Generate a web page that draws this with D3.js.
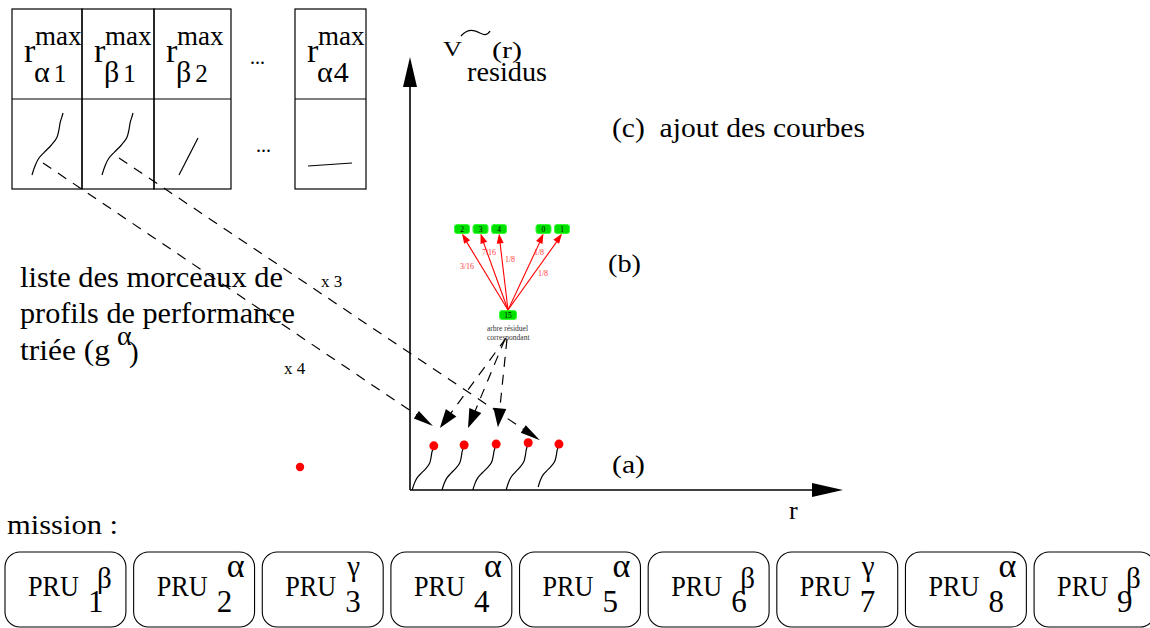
<!DOCTYPE html>
<html>
<head>
<meta charset="utf-8">
<script src="https://cdn.jsdelivr.net/npm/d3@7"></script>
<style>
    body { margin: 0; background: #fff; }
    svg, svg text { font-family: "Liberation Serif", "DejaVu Serif", "Times New Roman", Times, serif; }
</style>
</head>
<body>
<div id="chart"></div>
<script>
// ---- data ----
// sorted list of performance profile pieces (top-left table)
const pieceGreek = ['α', 'β', 'β', 'α'];
const pieceIndex = ['1', '1', '2', '4'];
const pieceKind  = ['curve', 'curve', 'line', 'flat'];

// mission : sequence of PRUs
const pruIndex = ['1', '2', '3', '4', '5', '6', '7', '8', '9'];
const pruGreek = ['β', 'α', 'γ', 'α', 'α', 'β', 'γ', 'α', 'β'];

// residual curves on the (r, V~) axes, in axis units
const residBase = [0.05, 0.74, 1.45, 2.22, 2.96];
const residBaseY = [0, 0, 0, 0, 0.07];
const residTopX = [0.55, 1.25, 1.99, 2.73, 3.44];
const residTopY = [1.02, 1.04, 1.06, 1.09, 1.06];
const strayDot = [-2.54, 0.53];

// residual tree
const treeRoot = '15';
const treeLeaves = ['2', '3', '4', '0', '1'];
const treeWeights = ['3/16', '7/16', '1/8', '1/8', '1/8'];
const treeSlot = [0, 1, 2, 4.4, 5.4];

const multLabels = ['x 3', 'x 4'];

// shape of one profile piece, normalised (0,0) bottom -> (1,1) top
const profileShape = [[0, 0], [0.1, 0.15], [0.22, 0.27], [0.4, 0.37], [0.62, 0.48],
    [0.8, 0.6], [0.87, 0.73], [0.91, 0.85], [0.96, 0.93], [1, 1]];

// ---- drawing ----
const width = 1150, height = 628;
const serif = '"Liberation Serif", "DejaVu Serif", "Times New Roman", Times, serif';
const svg = d3.select('#chart').append('svg')
    .attr('width', width)
    .attr('height', height)
    .attr('font-family', serif);

svg.append('rect').attr('width', width).attr('height', height).attr('fill', '#fff');

function headPoints(tx, ty, fx, fy, len, half) {
    let a = Math.atan2(ty - fy, tx - fx);
    let bx = tx - len * Math.cos(a), by = ty - len * Math.sin(a);
    let nx = -Math.sin(a) * half, ny = Math.cos(a) * half;
    return [[tx, ty], [bx + nx, by + ny], [bx - nx, by - ny]].map(p => p.join(',')).join(' ');
}

// text stretched to the width it has in the figure
function fitText(g, x, y, size, len, str) {
    return g.append('text')
        .attr('x', x).attr('y', y)
        .attr('font-size', size)
        .attr('textLength', len)
        .attr('lengthAdjust', 'spacingAndGlyphs')
        .text(str);
}

const pieceLine = d3.line().curve(d3.curveCatmullRom.alpha(0.5));

function profilePath(x0, y0, x1, y1) {
    let pts = profileShape.map(p => [x0 + p[0] * (x1 - x0), y0 + p[1] * (y1 - y0)]);
    return pieceLine(pts);
}

// table of pieces
const colLeft = [12, 82, 154, 295];
const colRight = [82, 154, 231, 366];
const rowTop = 9, rowMid = 99, rowBot = 189;
const kindGeom = {
    curve: [20, 175, 51, 113],
    line: [25, 175, 44, 138],
    flat: [13, 166, 57, 163]
};

let table = svg.append('g').attr('class', 'table');
pieceGreek.forEach((g, i) => {
    let x0 = colLeft[i], x1 = colRight[i];
    table.append('rect')
        .attr('x', x0).attr('y', rowTop)
        .attr('width', x1 - x0).attr('height', rowBot - rowTop)
        .attr('fill', 'none').attr('stroke', '#000').attr('stroke-width', 1.2);
    table.append('line')
        .attr('x1', x0).attr('x2', x1).attr('y1', rowMid).attr('y2', rowMid)
        .attr('stroke', '#000').attr('stroke-width', 1.2);
    table.append('text').attr('x', x0 + 12).attr('y', 62).attr('font-size', 34).text('r');
    table.append('text').attr('x', x0 + 23).attr('y', 45).attr('font-size', 27).text('max');
    let sub = table.append('text').attr('x', x0 + 22).attr('y', 82).attr('font-size', 30);
    sub.append('tspan').text(g);
    sub.append('tspan').attr('dx', pieceIndex[i] === '4' ? 1 : 4)
        .attr('font-size', pieceIndex[i] === '4' ? 30 : 25).text(pieceIndex[i]);

    let k = kindGeom[pieceKind[i]];
    let d = pieceKind[i] === 'curve'
        ? profilePath(x0 + k[0], k[1], x0 + k[2], k[3])
        : d3.line()([[x0 + k[0], k[1]], [x0 + k[2], k[3]]]);
    table.append('path').attr('d', d).attr('fill', 'none')
        .attr('stroke', '#000').attr('stroke-width', 1.2);
});
table.append('text').attr('x', 250).attr('y', 64).attr('font-size', 20).text('...');
table.append('text').attr('x', 256).attr('y', 152).attr('font-size', 20).text('...');

// left caption
let cap = svg.append('g');
fitText(cap, 20, 287, 29, 263, 'liste des morceaux de');
fitText(cap, 20, 323, 29, 275, 'profils de performance');
fitText(cap, 20, 360, 29, 90, 'triée (g');
cap.append('text').attr('x', 117).attr('y', 345).attr('font-size', 28).text('α');
cap.append('text').attr('x', 129).attr('y', 362).attr('font-size', 29).text(')');

// residual axes
const xR = d3.scaleLinear().domain([0, 10]).range([410, 843]);
const yV = d3.scaleLinear().domain([0, 10]).range([490, 57]);

let axes = svg.append('g');
axes.append('line')
    .attr('x1', xR(0)).attr('y1', yV(0)).attr('x2', xR(10) - 20).attr('y2', yV(0))
    .attr('stroke', '#000').attr('stroke-width', 1.6);
axes.append('polygon')
    .attr('points', headPoints(xR(10), yV(0), xR(0), yV(0), 31, 7));
axes.append('line')
    .attr('x1', xR(0)).attr('y1', yV(0)).attr('x2', xR(0)).attr('y2', yV(10) + 20)
    .attr('stroke', '#000').attr('stroke-width', 1.6);
axes.append('polygon')
    .attr('points', headPoints(xR(0), yV(10), xR(0), yV(0), 30, 7));

axes.append('text').attr('x', 789).attr('y', 519).attr('font-size', 26).text('r');
fitText(axes, 443, 56, 21, 19, 'V');
axes.append('path')
    .attr('d', 'M461,36 C468,28 475,30 480,33 C484,35 487,36 490,31')
    .attr('fill', 'none').attr('stroke', '#000').attr('stroke-width', 1.3);
fitText(axes, 492, 58, 23, 30, '(r)');
fitText(axes, 467, 81, 27, 80, 'residus');

let notes = svg.append('g');
fitText(notes, 612, 137, 27, 253, '(c)  ajout des courbes').attr('xml:space', 'preserve');
fitText(notes, 608, 272, 26, 33, '(b)');
fitText(notes, 612, 473, 26, 33, '(a)');

// residual curves and their red heads
let resid = svg.append('g');
residBase.forEach((b, i) => {
    resid.append('path')
        .attr('d', profilePath(xR(b), yV(residBaseY[i]), xR(residTopX[i]), yV(residTopY[i])))
        .attr('fill', 'none').attr('stroke', '#000').attr('stroke-width', 1.2);
});
resid.selectAll('circle.top')
    .data(residTopX)
    .enter().append('circle')
    .attr('class', 'top')
    .attr('cx', d => xR(d))
    .attr('cy', (d, i) => yV(residTopY[i]))
    .attr('r', 4.5)
    .attr('fill', '#f00');
resid.append('circle')
    .attr('cx', xR(strayDot[0])).attr('cy', yV(strayDot[1]))
    .attr('r', 4.2).attr('fill', '#f00');

// dashed arrows: table pieces -> residual curves (with multiplicity)
let links = [
    {from: [43, 163], to: [xR(0.53), yV(1.48)], half: 4.5, len: 20},
    {from: [119, 158], to: [xR(3.0), yV(1.15)], half: 4.5, len: 20},
    {from: [506, 338], to: [xR(0.69), yV(1.43)], half: 6.5, len: 19},
    {from: [505, 339], to: [xR(1.34), yV(1.43)], half: 6.5, len: 19},
    {from: [507, 339], to: [xR(2.03), yV(1.45)], half: 6.5, len: 19}
];
let linkG = svg.append('g');
links.forEach(l => {
    let a = Math.atan2(l.to[1] - l.from[1], l.to[0] - l.from[0]);
    linkG.append('line')
        .attr('x1', l.from[0]).attr('y1', l.from[1])
        .attr('x2', l.to[0] - (l.len - 2) * Math.cos(a)).attr('y2', l.to[1] - (l.len - 2) * Math.sin(a))
        .attr('stroke', '#000').attr('stroke-width', 1.2)
        .attr('stroke-dasharray', '10,8');
    linkG.append('polygon').attr('points', headPoints(l.to[0], l.to[1], l.from[0], l.from[1], l.len, l.half));
});
linkG.append('text').attr('x', 321).attr('y', 287).attr('font-size', 17).text(multLabels[0]);
linkG.append('text').attr('x', 284).attr('y', 374).attr('font-size', 17).text(multLabels[1]);

// residual tree (b)
const treeX = d3.scaleLinear().domain([0, 5.4]).range([462, 562]);
const leafY = 229, rootX = 508, rootY = 315;
let tree = svg.append('g');
treeLeaves.forEach((leaf, i) => {
    let lx = treeX(treeSlot[i]);
    tree.append('line')
        .attr('x1', rootX).attr('y1', rootY - 5)
        .attr('x2', lx + (rootX - lx) * 0.08).attr('y2', leafY + 4 + 8 * 0.92)
        .attr('stroke', '#f00').attr('stroke-width', 1.1);
    tree.append('polygon')
        .attr('points', headPoints(lx, leafY + 4.5, rootX, rootY - 5, 10, 3.5))
        .attr('fill', '#f00');
});
const weightPos = [[467, 269], [489, 255], [510, 262], [539, 255], [543, 276]];
treeWeights.forEach((w, i) => {
    tree.append('text').attr('x', weightPos[i][0]).attr('y', weightPos[i][1])
        .attr('font-size', 8).attr('text-anchor', 'middle')
        .style('fill', '#ff4040').text(w);
});
function treeNode(x, y, w, label) {
    tree.append('rect')
        .attr('x', x - w / 2).attr('y', y - 4.5).attr('width', w).attr('height', 9)
        .attr('rx', 2.5).attr('fill', '#00e000').attr('stroke', '#33ff33').attr('stroke-width', 1);
    tree.append('text').attr('x', x).attr('y', y + 2.5).attr('font-size', 7.5)
        .attr('text-anchor', 'middle').text(label);
}
treeLeaves.forEach((leaf, i) => treeNode(treeX(treeSlot[i]), leafY, 15, leaf));
treeNode(rootX, rootY, 17, treeRoot);
tree.append('text').attr('x', 487).attr('y', 331).attr('font-size', 7.5).style('fill', '#333').text('arbre résiduel');
tree.append('text').attr('x', 487).attr('y', 340).attr('font-size', 7.5).style('fill', '#333').text('correspondant');

// mission
fitText(svg, 7, 534, 27, 111, 'mission :');

const xPru = d3.scaleBand()
    .domain(pruIndex)
    .range([5, 1155])
    .paddingInner(0.06)
    .paddingOuter(0);
const supDx = {'α': 93, 'β': 92, 'γ': 85};
const supY = {'α': 577, 'β': 588, 'γ': 576};
const supSize = {'α': 34, 'β': 29, 'γ': 29};

let pru = svg.selectAll('g.pru')
    .data(pruIndex)
    .enter().append('g')
    .attr('class', 'pru')
    .attr('transform', d => `translate(${xPru(d)},0)`);
pru.append('rect')
    .attr('y', 552).attr('width', xPru.bandwidth()).attr('height', 75)
    .attr('rx', 15)
    .attr('fill', 'none').attr('stroke', '#000').attr('stroke-width', 1.1);
pru.append('text').attr('x', 23).attr('y', 596).attr('font-size', 30)
    .attr('textLength', 51).attr('lengthAdjust', 'spacingAndGlyphs').text('PRU');
pru.append('text').attr('x', 83).attr('y', 612).attr('font-size', 31).text(d => d);
pru.append('text')
    .attr('x', (d, i) => supDx[pruGreek[i]])
    .attr('y', (d, i) => supY[pruGreek[i]])
    .attr('font-size', (d, i) => supSize[pruGreek[i]])
    .text((d, i) => pruGreek[i]);
</script>
</body>
</html>
